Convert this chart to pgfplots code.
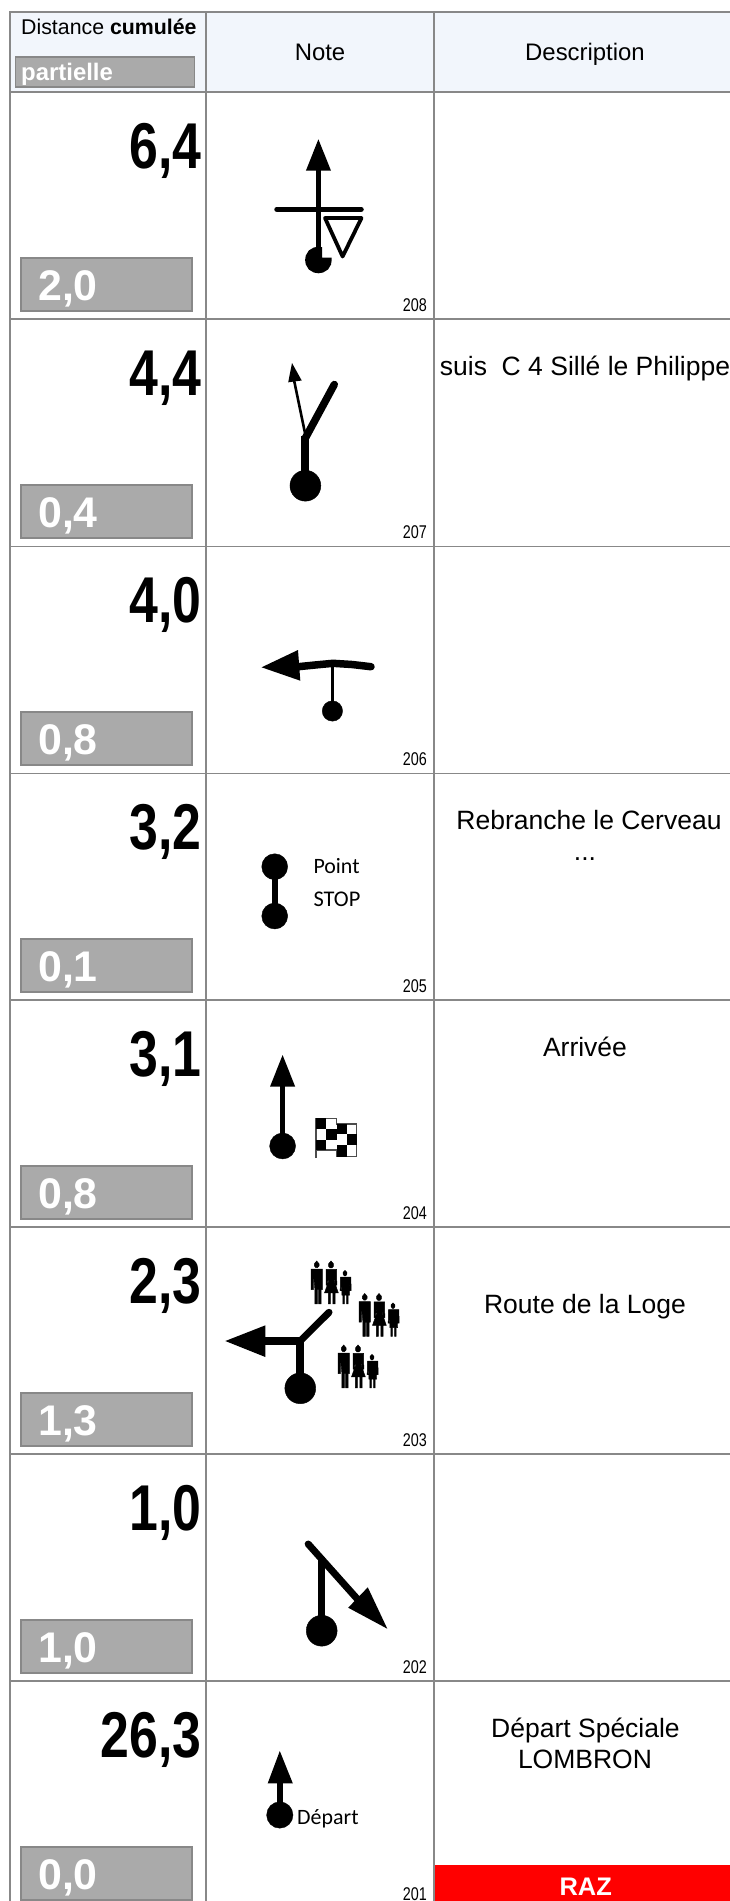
\documentclass[border=0pt]{standalone}
\usepackage{fontspec}
\usepackage{graphicx}
\usepackage{pgfplots}
\pgfplotsset{compat=1.18}
\setmainfont{Liberation Sans}
\newfontfamily\carl{Carlito}
\definecolor{gridc}{HTML}{888888}
\definecolor{boxg}{HTML}{AAAAAA}
\definecolor{headc}{HTML}{F2F6FC}
\newcommand{\fs}[1]{\fontsize{#1}{#1}\selectfont}
\newcommand{\poly}[2][black]{\addplot[fill=#1,draw=none,forget plot] coordinates {#2} --cycle;}
\newcommand{\ppl}[1]{\addplot[fill=black,draw=black,line width=0.5bp,forget plot] coordinates {#1} --cycle;}
\newcommand{\rln}[2]{\addplot[black,line width=#1bp,line cap=round,line join=round,forget plot] coordinates {#2};}
\newcommand{\rlnb}[2]{\addplot[black,line width=#1bp,line cap=butt,forget plot] coordinates {#2};}
\newcommand{\rdot}[2]{\addplot[only marks,mark=*,mark size=#1pt,mark options={fill=black,draw=none},forget plot] coordinates {#2};}
\newcommand{\tgrid}[1]{\addplot[gridc,line width=1.9bp,forget plot] coordinates {#1};}
\newcommand{\Row}[8]{%
  \node[anchor=base east,inner sep=0pt] at (axis cs:201.5,#4) {\fs{65}\bfseries\scalebox{0.8}[1]{#1}};
  \addplot[fill=boxg,draw=gridc,line width=1.5bp,forget plot] coordinates {(21,#5) (192,#5) (192,#6) (21,#6)} --cycle;
  \node[anchor=base west,inner sep=0pt,text=white] at (axis cs:38,#7) {\fs{43}\bfseries #2};
  \node[anchor=base east,inner sep=0pt] at (axis cs:427,#8) {\fs{18.5}\scalebox{0.78}[1]{#3}};
}
\newcommand{\people}[2]{%
 \begingroup
 \pgfplotsset{x filter/.expression={x+#1},y filter/.expression={1261+(y-1261)*1.1+#2}}%
 \ppl{(316.7,1261) (319,1263.5) (319,1265.5) (317.5,1267) (315.9,1267) (314.4,1265.5) (314.4,1263.5)}
 \ppl{(311,1268.3) (322.4,1268.3) (322.4,1287) (321,1287) (321,1300) (318.6,1300) (318.6,1287) (317.3,1287) (317.3,1300) (314.9,1300) (314.9,1287) (313.6,1273) (313.4,1287) (311,1287)}
 \ppl{(331,1261) (333.4,1263.5) (333.4,1265.8) (332,1267.3) (330,1267.3) (328.6,1265.8) (328.6,1263.5)}
 \ppl{(326,1268.6) (336.6,1268.6) (336.8,1283) (335.4,1283) (334.6,1274) (334.2,1279) (338.3,1290) (335,1290) (335,1300) (332.9,1300) (332.9,1290) (330.4,1290) (330.4,1300) (328.3,1300) (328.3,1290) (324.5,1290) (328.8,1279) (328.2,1274) (327.4,1283) (326,1283)}
 \ppl{(345,1269.5) (346.8,1271.2) (346.8,1273) (345.8,1274.4) (344.2,1274.4) (343.2,1273) (343.2,1271.2)}
 \ppl{(340.5,1275.6) (350.8,1275.6) (351.2,1288) (350,1288) (349,1279) (349.5,1292) (348.2,1292) (348.2,1300) (346.6,1300) (346.6,1292) (344.4,1292) (344.4,1300) (342.8,1300) (342.8,1292) (341.8,1292) (342.4,1279) (341.4,1288) (340.2,1288)}
 \endgroup
}
\begin{document}
\begin{tikzpicture}
\begin{axis}[hide axis,scale only axis,width=730bp,height=1901bp,
  xmin=0,xmax=730,ymin=0,ymax=1901,y dir=reverse,enlargelimits=false,clip=true]
% page
\addplot[fill=white,draw=none,forget plot] coordinates {(0,0) (730,0) (730,1901) (0,1901)} --cycle;
% header
\addplot[fill=headc,draw=none,forget plot] coordinates {(10,12) (730,12) (730,92) (10,92)} --cycle;
% RAZ
\addplot[fill=red,draw=none,forget plot] coordinates {(434,1865) (730,1865) (730,1901) (434,1901)} --cycle;
% table lines
\tgrid{(9.7,1901) (9.7,12.3) (730,12.3)}
\tgrid{(206,12) (206,1901)}
\tgrid{(433.6,12) (433.6,1901)}
\tgrid{(9.7,92) (730,92)}
\tgrid{(9.7,319) (730,319)}
\tgrid{(9.7,546.5) (730,546.5)}
\tgrid{(9.7,773.5) (730,773.5)}
\tgrid{(9.7,1000) (730,1000)}
\tgrid{(9.7,1227) (730,1227)}
\tgrid{(9.7,1454) (730,1454)}
\tgrid{(9.7,1681) (730,1681)}
% header text
\node[anchor=base west,inner sep=0pt] at (axis cs:21,34) {\fs{21.4}Distance \bfseries cumulée};
\addplot[fill=boxg,draw=gridc,line width=1.5bp,forget plot] coordinates {(15.5,57) (194.5,57) (194.5,87) (15.5,87)} --cycle;
\node[anchor=base west,inner sep=0pt,text=white] at (axis cs:21,80) {\fs{24}\bfseries partielle};
\node[anchor=base,inner sep=0pt] at (axis cs:320,60) {\fs{24}Note};
\node[anchor=base,inner sep=0pt] at (axis cs:585,60) {\fs{24}Description};
% rows
\Row{6,4}{2,0}{208}{168}{258}{311}{300}{311}
\Row{4,4}{0,4}{207}{395}{485}{538}{527}{538}
\Row{4,0}{0,8}{206}{622}{712}{765}{754}{765}
\Row{3,2}{0,1}{205}{849}{939}{992}{981}{992}
\Row{3,1}{0,8}{204}{1076}{1166}{1219}{1208}{1219}
\Row{2,3}{1,3}{203}{1303}{1393}{1446}{1435}{1446}
\Row{1,0}{1,0}{202}{1530}{1620}{1673}{1662}{1673}
\Row{26,3}{0,0}{201}{1757}{1847}{1900}{1889}{1900}
% descriptions
\node[anchor=base,inner sep=0pt] at (axis cs:585,375) {\fs{26.6}suis\ \ C 4 Sillé le Philippe};
\node[anchor=base,inner sep=0pt] at (axis cs:589,829) {\fs{26.6}Rebranche le Cerveau};
\node[anchor=base,inner sep=0pt] at (axis cs:585,860) {\fs{26.6}...};
\node[anchor=base,inner sep=0pt] at (axis cs:585,1056) {\fs{26.6}Arrivée};
\node[anchor=base,inner sep=0pt] at (axis cs:585,1313) {\fs{26.6}Route de la Loge};
\node[anchor=base,inner sep=0pt] at (axis cs:585.5,1737) {\fs{26.6}Départ Spéciale};
\node[anchor=base,inner sep=0pt] at (axis cs:585,1768) {\fs{26.6}LOMBRON};
\node[anchor=base,inner sep=0pt,text=white] at (axis cs:585.7,1895) {\fs{25.5}\bfseries RAZ};
% 208
\poly{(318.4,139.3) (331,170.7) (305.9,170.7)}
\rlnb{5.6}{(318.4,170) (318.4,258)}
\rln{5.5}{(277,209.3) (361,209.3)}
\poly{(322,257.5) (331.5,257.5) (331.7,260) (331,264.5) (328,269.5) (323,272.5) (318.4,273.3) (313.8,272.5) (308.8,269.5) (305.8,264.5) (305.1,260) (305.8,255.5) (308.8,250.5) (313.8,247.5) (318.4,246.7) (322,247.2)}
\addplot[fill=white,draw=black,line width=3.8bp,line join=round,forget plot] coordinates {(325,218) (361.5,218) (342.6,256.5)} --cycle;
% 207
\rdot{15.5}{(305.4,485.7)}
\rlnb{8}{(305.4,480) (305.4,436)}
\rln{7.5}{(305.4,438) (334.3,384.5)}
\rlnb{2.6}{(305,433) (294,380)}
\poly{(292,363) (301.7,380.5) (288.2,382.3)}
% 206
\poly{(261.6,667.3) (298,650) (300.3,680.7)}
\rln{7.5}{(298,666.7) (315,665) (333,663.3) (352,664.5) (371,666.7)}
\rlnb{2.8}{(332.4,664) (332.4,705)}
\rdot{10.2}{(332.4,711)}
% 205
\rdot{13}{(274.7,866.7)}
\rdot{13}{(274.7,916)}
\rlnb{5.6}{(274.7,867) (274.7,916)}
\node[anchor=base west,inner sep=0pt] at (axis cs:313.3,873) {\carl\fs{22}Point};
\node[anchor=base west,inner sep=0pt] at (axis cs:313.3,906.7) {\carl\fs{22.5}STOP};
% 204
\poly{(282.6,1055) (295.2,1086.7) (270,1086.7)}
\rlnb{5.6}{(282.6,1086) (282.6,1146)}
\rdot{13}{(282.6,1146)}
\addplot[black!70,line width=1.2bp,forget plot] coordinates {(316,1158) (316,1118.3) (336.7,1118.3) (336.7,1124) (356.7,1124) (356.7,1156.7) (336.7,1156.7) (336.7,1150) (316,1150)};
\poly{(316,1118.3) (326.3,1118.3) (326.3,1129.3) (316,1129.3)}
\poly{(326.3,1129.3) (336.7,1129.3) (336.7,1140) (326.3,1140)}
\poly{(316,1140) (326.3,1140) (326.3,1150) (316,1150)}
\poly{(336.7,1124) (346.7,1124) (346.7,1134.3) (336.7,1134.3)}
\poly{(346.7,1134.3) (356.7,1134.3) (356.7,1145) (346.7,1145)}
\poly{(336.7,1145) (346.7,1145) (346.7,1156.7) (336.7,1156.7)}
% 203
\rdot{15.5}{(300.3,1388.3)}
\rlnb{8}{(300.3,1385) (300.3,1337)}
\rlnb{8.5}{(262,1341) (303,1341)}
\poly{(225.3,1341) (265.4,1325.3) (265.4,1357)}
\rln{7}{(301.2,1340) (329,1312.3)}
\people{0}{0}
\people{48}{32.5}
\people{27}{84}
% 202
\rdot{15.5}{(321.7,1630.7)}
\rlnb{7}{(321.7,1625) (321.7,1557)}
\rln{7}{(308.2,1544) (360,1602)}
\poly{(387.3,1628.7) (367.8,1587.3) (348.2,1607.7)}
% 201
\poly{(279.8,1751) (292.8,1783.3) (267.7,1783.3)}
\rlnb{6.5}{(279.8,1783) (279.8,1812)}
\rdot{13.2}{(279.8,1815)}
\node[anchor=base west,inner sep=0pt] at (axis cs:297,1824) {\carl\fs{22}Départ};
\end{axis}
\end{tikzpicture}
\end{document}
